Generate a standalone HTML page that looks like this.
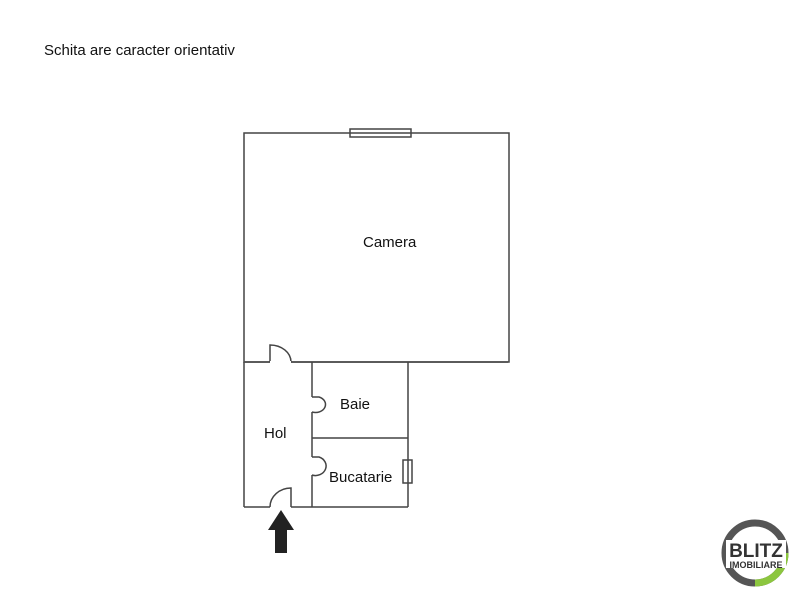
<!DOCTYPE html>
<html><head><style>
body{margin:0;width:800px;height:600px;background:#fff;overflow:hidden;font-family:"Liberation Sans",sans-serif}
</style></head><body>
<svg width="800" height="600" viewBox="0 0 800 600" xmlns="http://www.w3.org/2000/svg">
<text x="44" y="55" font-size="15" fill="#111" font-family="Liberation Sans">Schita are caracter orientativ</text>
<g stroke="#444" stroke-width="1.5" fill="none">
<rect x="244" y="133" width="265" height="229"/>
<line x1="244" y1="362" x2="244" y2="507"/>
<line x1="244" y1="507" x2="270" y2="507"/>
<line x1="291" y1="507" x2="408" y2="507"/>
<line x1="408" y1="362" x2="408" y2="507"/>
<line x1="312" y1="362" x2="312" y2="397"/>
<line x1="312" y1="412" x2="312" y2="457"/>
<line x1="312" y1="475" x2="312" y2="507"/>
<line x1="312" y1="438" x2="408" y2="438"/>
<path d="M270 362 L270 345 A21 17 0 0 1 291 362"/>
<path d="M291 507 L291 488 A21 19 0 0 0 270 507"/>
<path d="M312 397 L319 397 A10 8 0 0 1 312 412"/>
<path d="M312 457 L319 457 A10 9 0 0 1 312 475"/>
<rect x="350" y="129" width="61" height="8"/>
<rect x="403" y="460" width="9" height="23"/>
</g>
<line x1="270" y1="362" x2="291" y2="362" stroke="#fff" stroke-width="2"/>
<line x1="245" y1="362" x2="270" y2="362" stroke="#444" stroke-width="1.5"/>
<line x1="291" y1="362" x2="508" y2="362" stroke="#444" stroke-width="1.5"/>
<polygon points="281,510 294,530 287,530 287,553 275,553 275,530 268,530" fill="#222"/>
<g font-family="Liberation Sans" font-size="15" fill="#111">
<text x="363" y="247">Camera</text>
<text x="340" y="409">Baie</text>
<text x="264" y="438">Hol</text>
<text x="329" y="482">Bucatarie</text>
</g>
<circle cx="755" cy="553" r="30" fill="none" stroke="#555" stroke-width="7"/>
<path d="M785 553 A30 30 0 0 1 755 583" fill="none" stroke="#8cc63f" stroke-width="7"/>
<rect x="726" y="540" width="60" height="28" fill="#fff"/>
<text x="756" y="557" text-anchor="middle" font-size="19" font-weight="bold" fill="#333" font-family="Liberation Sans">BLITZ</text>
<text x="756" y="568" text-anchor="middle" font-size="9" font-weight="bold" fill="#333" font-family="Liberation Sans">IMOBILIARE</text>
</svg>
</body></html>
